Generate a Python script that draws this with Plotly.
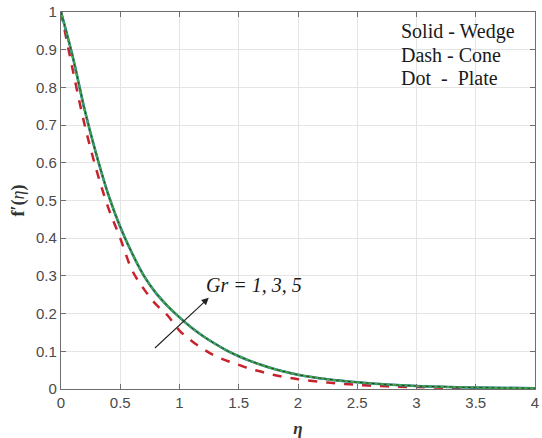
import plotly.graph_objects as go

# similarity variable eta
eta = [0, 0.1, 0.2, 0.3, 0.4, 0.5, 0.6, 0.7, 0.8, 0.9, 1.0, 1.1, 1.2, 1.3, 1.4,
       1.5, 1.6, 1.7, 1.8, 1.9, 2.0, 2.25, 2.5, 2.75, 3.0, 3.5, 4.0]

# velocity profile f'(eta) for the wedge / plate geometry
f_wedge = [1.0, 0.88, 0.74, 0.62, 0.515, 0.43, 0.36, 0.30, 0.255, 0.22, 0.19,
           0.163, 0.14, 0.12, 0.102, 0.087, 0.074, 0.063, 0.053, 0.045, 0.038,
           0.026, 0.018, 0.012, 0.008, 0.004, 0.002]
f_plate = f_wedge

# velocity profile f'(eta) for the cone geometry
f_cone = [1.0, 0.845, 0.70, 0.58, 0.48, 0.40, 0.315, 0.265, 0.225, 0.195, 0.155,
          0.128, 0.106, 0.088, 0.075, 0.064, 0.053, 0.045, 0.037, 0.031, 0.026,
          0.017, 0.011, 0.007, 0.005, 0.002, 0.001]

x_ticks = [0, 0.5, 1, 1.5, 2, 2.5, 3, 3.5, 4]
y_ticks = [0, 0.1, 0.2, 0.3, 0.4, 0.5, 0.6, 0.7, 0.8, 0.9, 1]

fig = go.Figure()
fig.add_trace(go.Scatter(x=eta, y=f_cone, mode="lines", line_shape="spline",
                         line=dict(color="#C8232C", width=2.5, dash="dash")))
fig.add_trace(go.Scatter(x=eta, y=f_wedge, mode="lines", line_shape="spline",
                         line=dict(color="#1F5FA8", width=2.6)))
fig.add_trace(go.Scatter(x=eta, y=f_wedge, mode="lines", line_shape="spline",
                         line=dict(color="#E8C02A", width=1.2, dash="dot")))
fig.add_trace(go.Scatter(x=eta, y=f_plate, mode="lines", line_shape="spline",
                         line=dict(color="#3DAF4A", width=2)))
fig.add_trace(go.Scatter(x=eta, y=f_plate, mode="lines", line_shape="spline",
                         line=dict(color="#2B3B2B", width=1, dash="dot")))

axis_common = dict(
    showgrid=True, gridcolor="#E4E4E4", gridwidth=1,
    showline=True, linecolor="#6E6E6E", linewidth=1.2, mirror="ticks",
    ticks="inside", ticklen=5, tickcolor="#6E6E6E",
    tickfont=dict(family="Liberation Sans, Arial", size=15, color="#4A4A4A"),
    ticklabeloverflow="allow",
    zeroline=False,
)

fig.update_xaxes(range=[0, 4], tickvals=x_ticks,
                 ticktext=[f"{v:g}" for v in x_ticks],
                 title=dict(text="<b><i>η</i></b>",
                            font=dict(family="Liberation Serif, Times New Roman",
                                      size=17, color="#333333"),
                            standoff=12),
                 **axis_common)
fig.update_yaxes(range=[0, 1], tickvals=y_ticks,
                 ticktext=[f"{v:g}" for v in y_ticks],
                 title=dict(text="<b>f′(</b><i>η</i><b>)</b>",
                            font=dict(family="Liberation Serif, Times New Roman",
                                      size=18, color="#333333"),
                            standoff=6),
                 **axis_common)

# geometry key, positioned in pixels of the figure
plot_l, plot_r, plot_t, plot_b = 61, 3, 12, 48
W, H = 542, 438
key_lines = ["Solid - Wedge", "Dash - Cone", "Dot \u00a0-\u00a0 Plate"]
for i, txt in enumerate(key_lines):
    px, py = 402, 31.7 + 23.3 * i
    fig.add_annotation(x=(px - plot_l) / (W - plot_l - plot_r),
                       y=1 - (py - plot_t) / (H - plot_t - plot_b),
                       xref="paper", yref="paper",
                       text=txt, showarrow=False, xanchor="left", yanchor="middle",
                       font=dict(family="Liberation Serif, Times New Roman",
                                 size=20, color="#1A1A1A"))

# Grashof number arrow and label
fig.add_annotation(x=1.247, y=0.242, ax=0.78, ay=0.105, xref="x", yref="y",
                   axref="x", ayref="y", text="", showarrow=True,
                   arrowhead=2, arrowsize=1.3, arrowwidth=1.1, arrowcolor="#222222")
fig.add_annotation(x=1.625, y=0.277, xref="x", yref="y",
                   text="<i>Gr = 1, 3, 5</i>", showarrow=False,
                   font=dict(family="Liberation Serif, Times New Roman",
                             size=20, color="#1A1A1A"))

fig.update_layout(
    width=W, height=H,
    margin=dict(l=plot_l, r=plot_r, t=plot_t, b=plot_b),
    paper_bgcolor="white", plot_bgcolor="white",
    showlegend=False,
)

fig.write_html("out.html")
